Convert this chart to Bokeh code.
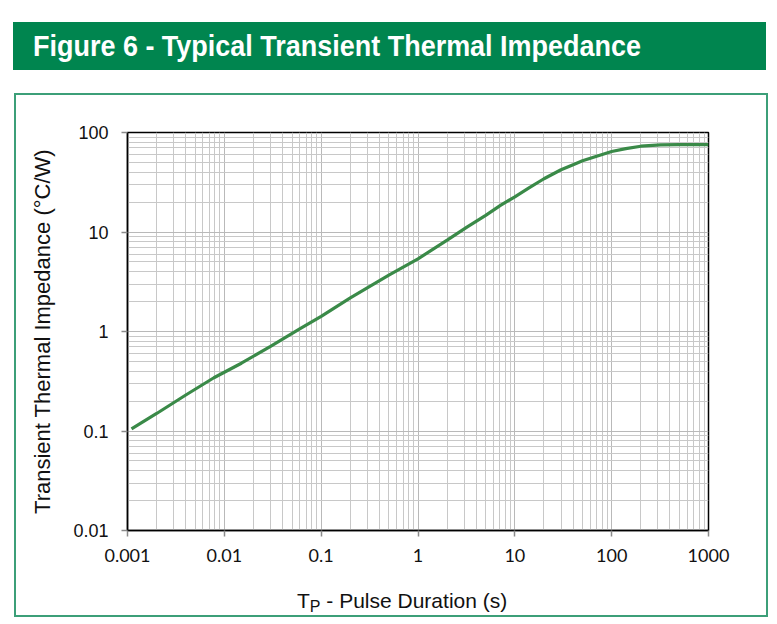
from bokeh.plotting import figure
from bokeh.models import Range1d, FixedTicker, Div
from bokeh.layouts import column
from bokeh.embed import file_html
from bokeh.resources import INLINE

# ---------------- data ----------------
title_text = "Figure 6 - Typical Transient Thermal Impedance"
y_label_text = "Transient Thermal Impedance (°C/W)"
x_label_main = "T"
x_label_sub = "P"
x_label_rest = " - Pulse Duration (s)"

pulse_s = [0.0011, 0.002, 0.004, 0.0078, 0.015, 0.03, 0.06, 0.1, 0.2, 0.5,
           1.0, 2.0, 3.2, 5.0, 7.1, 10.0, 14.0, 20.0, 30.0, 40.0, 50.0, 70.0,
           100.0, 140.0, 200.0, 320.0, 500.0, 1000.0]
zth_cw = [0.105, 0.15, 0.23, 0.343, 0.48, 0.71, 1.06, 1.42, 2.18, 3.68,
          5.37, 8.3, 11.2, 14.7, 18.5, 22.6, 27.7, 34.3, 42.2, 47.4, 51.9, 57.8,
          64.4, 68.8, 72.8, 75.0, 75.4, 75.5]

x_major_ticks = [0.001, 0.01, 0.1, 1.0, 10.0, 100.0, 1000.0]
x_tick_labels = ["0.001", "0.01", "0.1", "1", "10", "100", "1000"]
y_major_ticks = [0.01, 0.1, 1.0, 10.0, 100.0]
y_tick_labels = ["0.01", "0.1", "1", "10", "100"]
minor_multipliers = [2, 3, 4, 5, 6, 7, 8, 9]

x_minor = [m * d for d in x_major_ticks[:-1] for m in minor_multipliers]
y_minor = [m * d for d in y_major_ticks[:-1] for m in minor_multipliers]

# ---------------- header ----------------
header = Div(
    text=('<div style="display:inline-block; transform:scaleX(0.93); '
          'transform-origin:left center; white-space:nowrap;">'
          + title_text + '</div>'),
    width=753, height=48, margin=(22, 0, 0, 13),
    styles={"background-color": "#00854f", "color": "white",
            "font-family": "'Liberation Sans', Arial, sans-serif",
            "font-weight": "bold", "font-size": "29px",
            "line-height": "48px", "padding-left": "20px",
            "box-sizing": "border-box", "overflow": "hidden"})

# ---------------- figure ----------------
p = figure(width=750, height=490, x_axis_type="log", y_axis_type="log",
           x_range=Range1d(0.001, 1000), y_range=Range1d(0.01, 100),
           output_backend="svg", toolbar_location=None,
           min_border_left=111, min_border_right=58,
           min_border_top=37, min_border_bottom=55)
p.background_fill_color = "white"
p.border_fill_color = "white"
p.outline_line_color = "black"
p.outline_line_width = 1.5

xt = FixedTicker(ticks=x_major_ticks, minor_ticks=x_minor)
yt = FixedTicker(ticks=y_major_ticks, minor_ticks=y_minor)
p.xaxis.ticker = xt
p.yaxis.ticker = yt
p.xgrid.ticker = xt
p.ygrid.ticker = yt
p.xaxis.major_label_overrides = dict(zip(x_major_ticks, x_tick_labels))
p.yaxis.major_label_overrides = dict(zip(y_major_ticks, y_tick_labels))

for ax in (p.xaxis, p.yaxis):
    ax.axis_line_color = "black"
    ax.axis_line_width = 1.5
    ax.major_tick_line_color = "#8a8a8a"
    ax.major_tick_line_width = 1.5
    ax.major_tick_out = 6
    ax.major_tick_in = 0
    ax.minor_tick_out = 0
    ax.minor_tick_in = 0
    ax.major_label_text_color = "#111111"

p.xaxis.major_label_text_font = "Lato"
p.xaxis.major_label_text_font_size = "18px"
p.xaxis.major_label_standoff = 12
p.yaxis.major_label_text_font = "Liberation Sans"
p.yaxis.major_label_text_font_size = "18px"
p.yaxis.major_label_standoff = 13

p.yaxis.axis_label = y_label_text
p.yaxis.axis_label_text_font = "Liberation Sans"
p.yaxis.axis_label_text_font_style = "normal"
p.yaxis.axis_label_text_font_size = "22px"
p.yaxis.axis_label_text_color = "#111111"
p.yaxis.axis_label_standoff = 15

for g in (p.xgrid, p.ygrid):
    g.grid_line_color = "#b9b9b9"
    g.grid_line_width = 1
    g.minor_grid_line_color = "#c8c8c8"
    g.minor_grid_line_width = 1

p.line(pulse_s, zth_cw, line_color="#3a8a48", line_width=3.2)

# ---------------- x axis label (with subscript) ----------------
xlabel = Div(
    text=('<div style="padding-left:281px; padding-top:4px; white-space:nowrap;">'
          + x_label_main
          + '<span style="font-size:16px; position:relative; top:4px;">'
          + x_label_sub + '</span>' + x_label_rest + '</div>'),
    width=750, height=30, margin=0,
    styles={"font-family": "'Liberation Sans', Arial, sans-serif",
            "font-size": "21px", "line-height": "24px", "color": "#111111",
            "overflow": "hidden"})

box = column(p, xlabel, margin=(23, 0, 0, 14), spacing=0,
             styles={"border": "2px solid #3c9f78", "background": "white"})

layout = column(header, box, spacing=0, margin=0)

open("out.html", "w").write(file_html(layout, INLINE))
